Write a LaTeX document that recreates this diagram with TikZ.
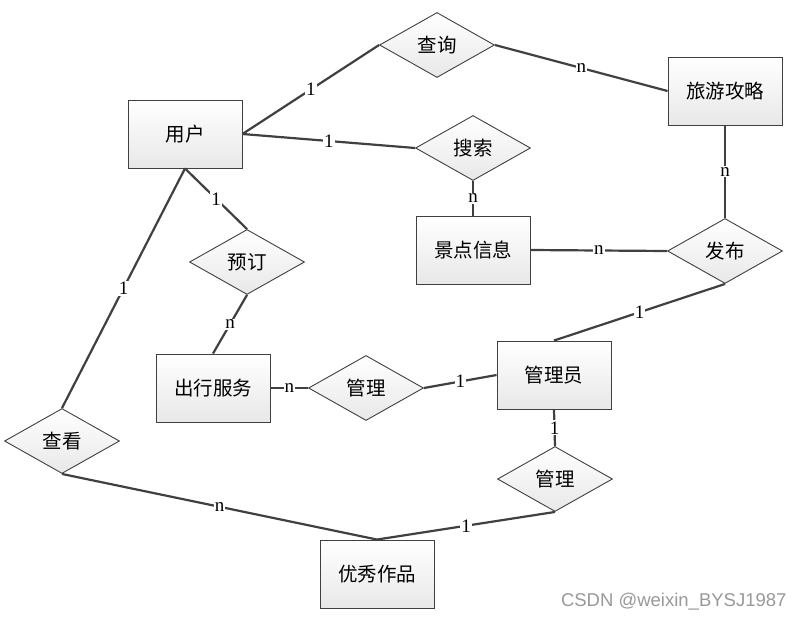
\documentclass[tikz,border=0pt]{standalone}
\usepackage{fontspec}
\setmainfont{Liberation Serif}
\newfontfamily\cjk{Noto Sans CJK SC}
\newfontfamily\wmfont{Liberation Sans}
\usetikzlibrary{shapes.geometric}
\definecolor{linegray}{HTML}{404040}
\tikzset{entity/.style =
   {rectangle,
    draw=linegray,
    line width=0.9pt,
    top color=white,
    bottom color=black!9,
    minimum width=114pt,
    minimum height=68pt,
    font=\cjk\fontsize{19.5}{21}\selectfont}}
\tikzset{relation/.style =
   {diamond,
    draw=linegray,
    line width=0.9pt,
    top color=white,
    bottom color=black!9,
    aspect=1.77,
    inner sep=0pt,
    minimum width=115pt,
    minimum height=65pt,
    font=\cjk\fontsize{19.5}{21}\selectfont}}
\tikzset{link/.style = {draw=linegray, line width=2.2pt}}
\tikzset{card/.style =
   {fill=white,
    inner sep=1pt,
    font=\fontsize{19}{20}\selectfont}}

\begin{document}
\begin{tikzpicture}[x=1pt,y=-1pt]
    \useasboundingbox[fill=white] (0,0) rectangle (805,621);

    % entities
    \node [entity] (user) at (185,134) {用户};
    \node [entity] (guide) at (725,91) {旅游攻略};
    \node [entity] (spot) at (473,250) {景点信息};
    \node [entity] (travel) at (213,388) {出行服务};
    \node [entity] (admin) at (554,375) {管理员};
    \node [entity] (works) at (377,574) {优秀作品};

    % relations
    \node [relation] (query) at (437,45) {查询};
    \node [relation] (search) at (473,148) {搜索};
    \node [relation] (publish) at (725,251) {发布};
    \node [relation] (book) at (247,262) {预订};
    \node [relation] (manage1) at (366,388) {管理};
    \node [relation] (manage2) at (555,479) {管理};
    \node [relation] (view) at (62,441) {查看};

    % connectors
    \draw [link] (user.east) -- node[card] {1} (query.west);
    \draw [link] (query.east) -- node[card] {n} (guide.west);
    \draw [link] (user.east) -- node[card] {1} (search.west);
    \draw [link] (search.south) -- node[card] {n} (spot.north);
    \draw [link] (guide.south) -- node[card] {n} (publish.north);
    \draw [link] (spot.east) -- node[card] {n} (publish.west);
    \draw [link] (publish.south) -- node[card] {1} (admin.north);
    \draw [link] (user.south) -- node[card] {1} (book.north);
    \draw [link] (user.south) -- node[card] {1} (view.north);
    \draw [link] (book.south) -- node[card] {n} (travel.north);
    \draw [link] (travel.east) -- node[card] {n} (manage1.west);
    \draw [link] (manage1.east) -- node[card] {1} (admin.west);
    \draw [link] (admin.south) -- node[card] {1} (manage2.north);
    \draw [link] (manage2.south) -- node[card] {1} (works.north);
    \draw [link] (view.south) -- node[card] {n} (works.north);

    % watermark
    \node [text=black!40, font=\wmfont\fontsize{18.5}{20}\selectfont,
           anchor=east] (mark) at (790,602) {CSDN @weixin\_BYSJ1987};
\end{tikzpicture}
\end{document}
